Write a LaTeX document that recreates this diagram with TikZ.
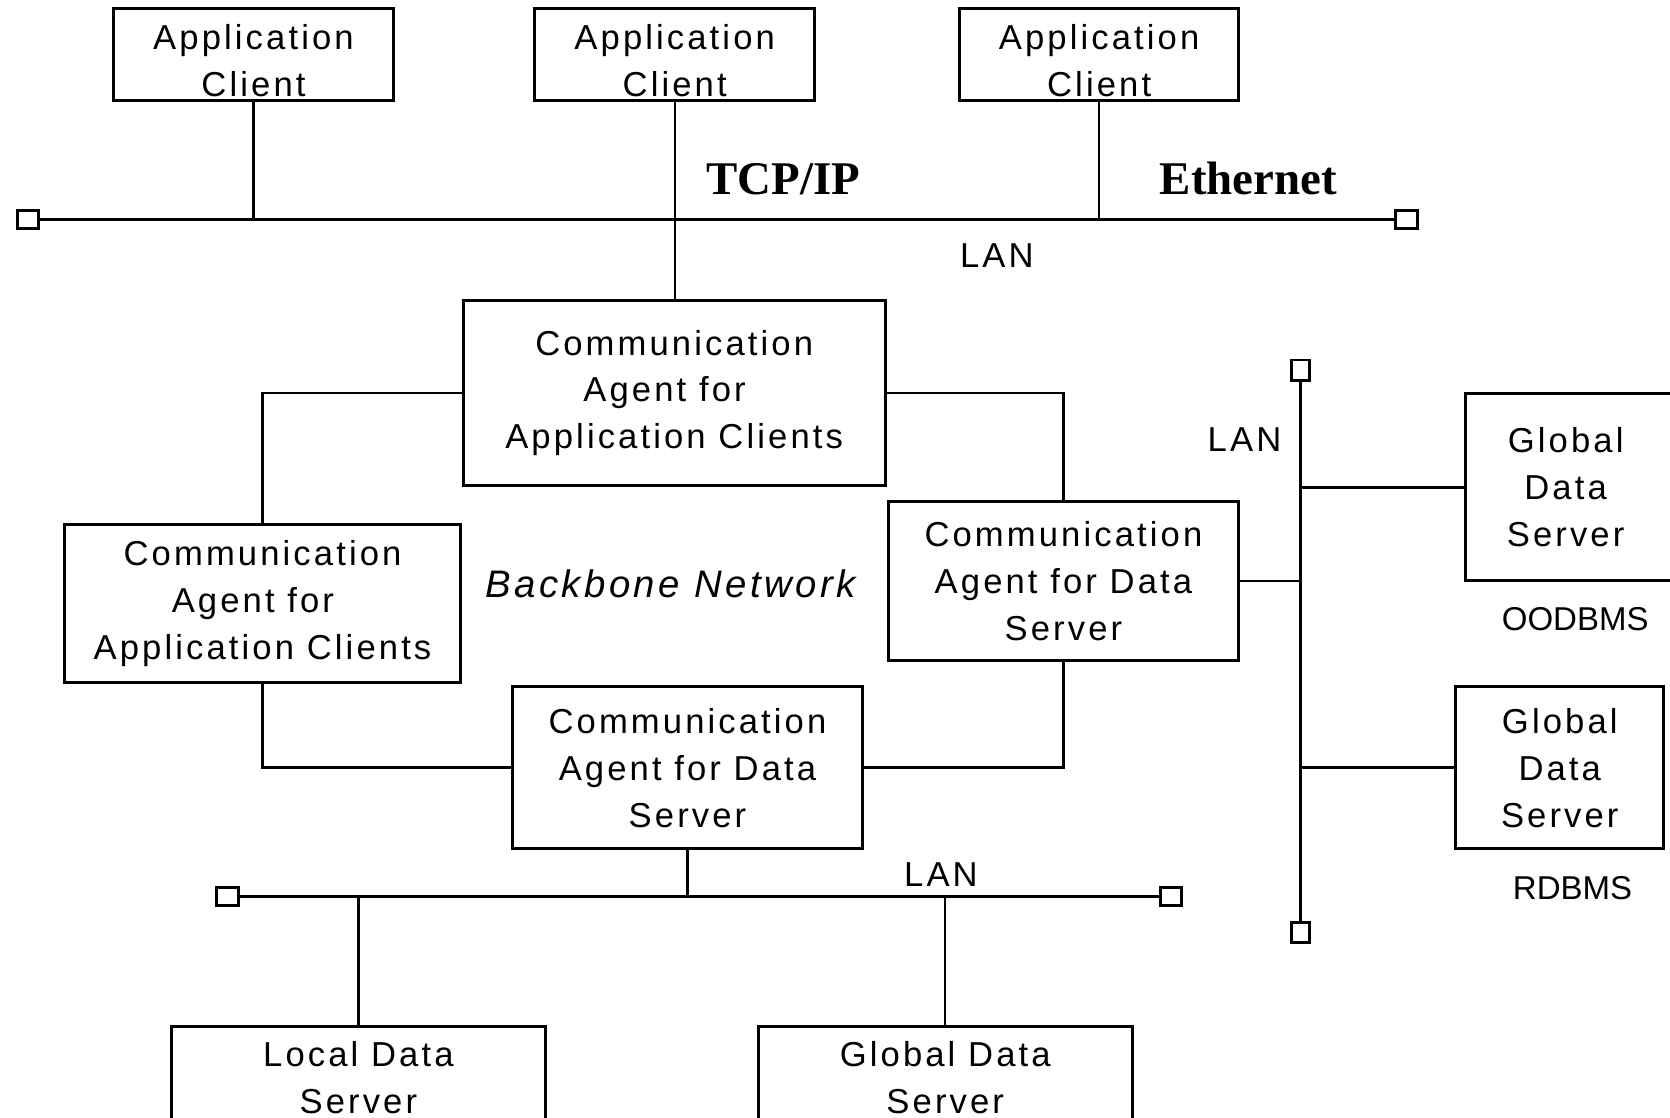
\documentclass[tikz,border=0pt]{standalone}
\usepackage{fontspec}
\usepackage{tikz}
\newfontfamily\diagfont[LetterSpace=9]{Liberation Sans}
\newfontfamily\dbfont{Liberation Sans}
\newfontfamily\protofont{Liberation Serif}

\begin{document}
\begin{tikzpicture}[x=1pt,y=-1pt,line width=2.8pt,
  box/.style={draw,rectangle,line width=2.8pt,inner sep=0pt,align=center,
    font=\diagfont\fontsize{32.5}{44}\selectfont},
  client/.style={box,minimum width=262pt,minimum height=86pt,text height=80pt},
  term/.style={draw,rectangle,fill=white,line width=2.8pt,inner sep=0pt,
    minimum width=20pt,minimum height=17pt},
  vterm/.style={term,minimum width=17pt,minimum height=19pt},
  lan/.style={line width=2.8pt},
  drop/.style={line width=2.2pt},
  txt/.style={inner sep=0pt,font=\diagfont\fontsize{32.5}{44}\selectfont},
  proto/.style={inner sep=0pt,font=\protofont\bfseries\fontsize{44}{50}\selectfont},
  dbms/.style={inner sep=0pt,font=\dbfont\fontsize{31}{36}\selectfont}]
  \useasboundingbox (0,0) rectangle (1568,1049);
  \fill[white] (0,0) rectangle (1568,1049);
  \clip (0,0) rectangle (1568,1049);

  \node[client]                                        (AC1) at (238,51)     {Application\\Client};
  \node[client,minimum width=263pt]                    (AC2) at (633.5,51)   {Application\\Client};
  \node[client]                                        (AC3) at (1032,51)    {Application\\Client};
  \node[box,minimum width=396pt,minimum height=174pt]  (CA1) at (633,369)    {Communication\\Agent for\hphantom{a}\\Application Clients};
  \node[box,minimum width=371pt,minimum height=149pt]  (CA2) at (246.5,566.5) {Communication\\Agent for\hphantom{a}\\Application Clients};
  \node[box,minimum width=329pt,minimum height=149pt]  (CA3) at (998.5,545.5) {Communication\\Agent for Data\\Server};
  \node[box,minimum width=329pt,minimum height=152pt]  (CA4) at (645.5,721)  {Communication\\Agent for Data\\Server};
  \node[box,minimum width=351pt,minimum height=96pt]   (LDS) at (336.5,1012) {Local Data\\Server};
  \node[box,minimum width=351pt,minimum height=96pt]   (GDS) at (887.5,1012) {Global Data\\Server};
  \node[box,draw=none,minimum width=186pt,minimum height=173pt] (GDS1) at (1470,457.5) {Global\\Data\\Server};
  \node[box,minimum width=195pt,minimum height=152pt]  (GDS2) at (1464.5,721) {Global\\Data\\Server};
  \draw[line width=2.8pt] ([xshift=60pt]GDS1.north east) -- (GDS1.north west) -- (GDS1.south west) -- ([xshift=60pt]GDS1.south east);

  \node[term]  (T1) at (26,206)     {};
  \node[term]  (T2) at (1320.5,206) {};
  \node[term]  (T3) at (213.5,842)  {};
  \node[term]  (T4) at (1099.5,842) {};
  \node[vterm] (T5) at (1221,347.5) {};
  \node[vterm] (T6) at (1221,875.5) {};

  \draw[lan] (T1) -- (T2);
  \draw[lan] (T3) -- (T4);
  \draw[lan] (T5) -- (T6);

  \path[drop] (AC1)       edge (AC1 |- T1)
              (AC2.south) edge (AC2.south |- CA1.north)
              (AC3)       edge (AC3 |- T1)
              (CA4)       edge (CA4 |- T3)
              (LDS)       edge (LDS |- T3)
              (GDS)       edge (GDS |- T3);
  \path (CA3)  edge (CA3 -| T5)
        (GDS1) edge (GDS1 -| T5)
        (GDS2) edge (GDS2 -| T5);
  \draw (CA1) -| (CA2);
  \draw (CA1) -| (CA3);
  \draw (CA2) |- (CA4);
  \draw (CA3) |- (CA4);

  \node[proto] (TCP)  at (735.5,168)  {TCP/IP};
  \node[proto] (ETH)  at (1172,168)   {Ethernet};
  \node[txt]   (LAN1) at (936,240)    {LAN};
  \node[txt]   (LAN2) at (1168.5,413) {LAN};
  \node[txt]   (LAN3) at (883.5,821)  {LAN};
  \node[txt,font=\diagfont\itshape\fontsize{36}{40}\selectfont] (BB) at (629.5,548) {Backbone Network};
  \node[dbms]  (OO)   at (1479,581)   {OODBMS};
  \node[dbms]  (RD)   at (1476.5,834) {RDBMS};
\end{tikzpicture}
\end{document}
